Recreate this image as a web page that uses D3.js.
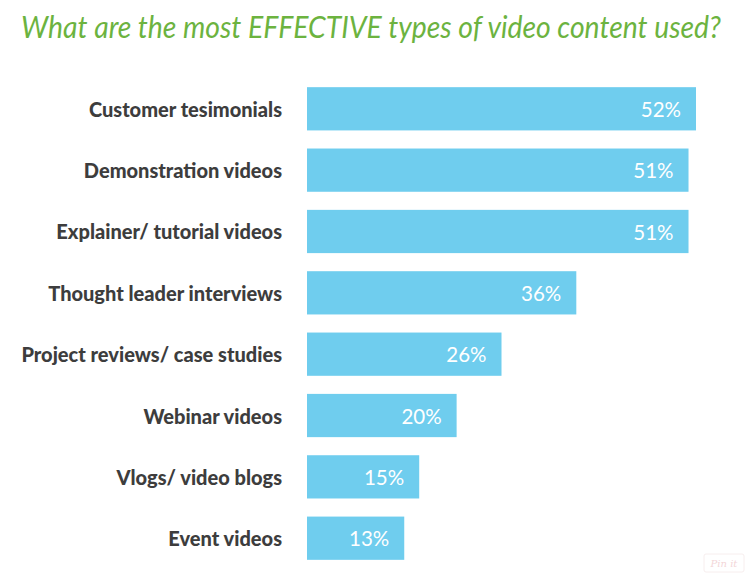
<!DOCTYPE html>
<html>
<head>
<meta charset="utf-8">
<script src="https://cdn.jsdelivr.net/npm/d3@7"></script>
<style>
  body { margin: 0; background: #fff; }
</style>
</head>
<body>
<script>
var categories = ["Customer tesimonials", "Demonstration videos", "Explainer/ tutorial videos",
    "Thought leader interviews", "Project reviews/ case studies", "Webinar videos",
    "Vlogs/ video blogs", "Event videos"];
var values = [52, 51, 51, 36, 26, 20, 15, 13];
var title = "What are the most EFFECTIVE types of video content used?";

var width = 746,
    height = 573;

var svg = d3.select("body").append("svg")
    .attr("width", width)
    .attr("height", height);

// title is a condensed italic face in the original, squeeze Lato horizontally to fit
var titleText = svg.append("text")
    .attr("x", 0)
    .attr("y", 0)
    .attr("font-family", "Lato, sans-serif")
    .attr("font-style", "italic")
    .attr("font-size", 31)
    .attr("fill", "#6cb33f")
    .text(title);
var natural = titleText.node().getComputedTextLength();
titleText.attr("transform", "translate(21,38) scale(" + (700 / natural) + ",1)");

var x = d3.scaleLinear()
    .domain([0, 52])
    .range([307, 696]);

var y = d3.scaleBand()
    .domain(categories)
    .range([70, 577])
    .paddingInner(0.295)
    .paddingOuter(0.28);

var rows = svg.selectAll("g.row")
    .data(categories)
    .enter().append("g")
    .attr("class", "row");

rows.append("rect")
    .attr("x", x(0))
    .attr("y", function(d) { return y(d); })
    .attr("width", function(d, i) { return x(values[i]) - x(0); })
    .attr("height", y.bandwidth())
    .attr("fill", "#6fcdee");

rows.append("text")
    .attr("x", 282)
    .attr("y", function(d) { return y(d) + y.bandwidth() / 2 + 1; })
    .attr("dy", "0.35em")
    .attr("text-anchor", "end")
    .attr("font-family", "Lato, sans-serif")
    .attr("font-weight", 900)
    .attr("font-size", 20)
    .attr("fill", "#3d3d3d")
    .text(function(d) { return d; });

rows.append("text")
    .attr("x", function(d, i) { return x(values[i]) - 15; })
    .attr("y", function(d) { return y(d) + y.bandwidth() / 2 + 1; })
    .attr("dy", "0.35em")
    .attr("text-anchor", "end")
    .attr("font-family", "Lato, sans-serif")
    .attr("font-size", 20.5)
    .attr("fill", "#fff")
    .text(function(d, i) { return values[i] + "%"; });

// faint "Pin it" badge bottom right
svg.append("rect")
    .attr("x", 704).attr("y", 554)
    .attr("width", 40).attr("height", 18)
    .attr("rx", 2)
    .attr("fill", "none")
    .attr("stroke", "#f7eeee");
svg.append("text")
    .attr("x", 724).attr("y", 567)
    .attr("text-anchor", "middle")
    .attr("font-family", "DejaVu Serif, serif")
    .attr("font-style", "italic")
    .attr("font-size", 10)
    .attr("fill", "#f3d6d8")
    .text("Pin it");
</script>
</body>
</html>
